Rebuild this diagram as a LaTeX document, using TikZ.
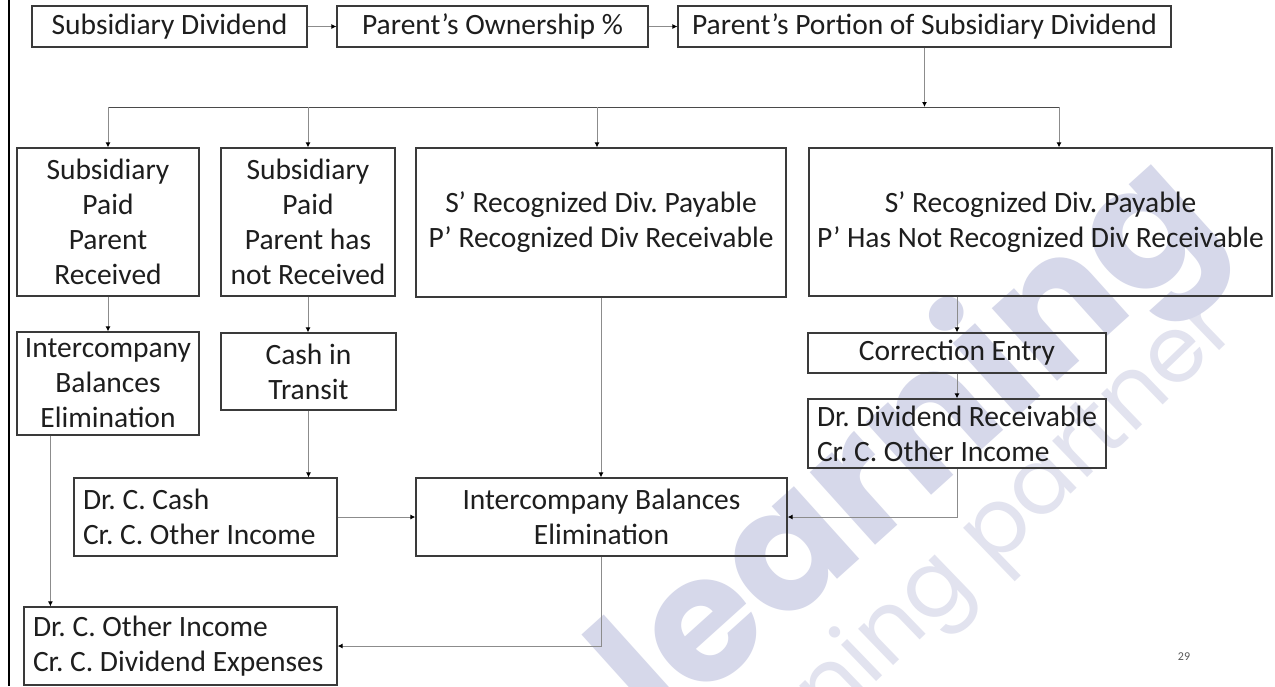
\documentclass[tikz,border=0pt]{standalone}
\usepackage{fontspec}
\setmainfont{Carlito}
\newfontfamily\wmfont{Poppins}
\usetikzlibrary{arrows.meta}
\definecolor{boxline}{HTML}{3A3A3A}
\definecolor{connline}{HTML}{8C8C8C}
\definecolor{busline}{HTML}{4A4A4A}
\definecolor{inktext}{HTML}{1E1E1E}
\definecolor{wmblue}{HTML}{D6D8EA}
\definecolor{wmgrey}{HTML}{E2E3EF}
\definecolor{pagenum}{HTML}{595959}

\begin{document}
\begin{tikzpicture}[x=1pt,y=-1pt,
  box/.style={draw=boxline, line width=1.2pt, inner sep=0pt, text=inktext,
    font=\fontsize{29.5}{35}\selectfont\frenchspacing, align=center},
  lbox/.style={box, align=flush left, inner xsep=9pt},
  conn/.style={draw=connline, line width=1pt,
    -{Latex[length=5pt,width=5pt,color=black]}},
  busstyle/.style={draw=busline, line width=1pt},
]
\useasboundingbox (0,0) rectangle (1275,686);
\fill[white] (0,0) rectangle (1275,686);

% faint background watermark
\begin{scope}
  \clip (0,0) rectangle (1275,686);
  \node[text=wmgrey, font=\wmfont\fontsize{92}{92}\selectfont, rotate=44]
    (wmsub) at (968,562) {learning partner”};
  \node[text=wmblue, font=\wmfont\bfseries\fontsize{175}{175}\selectfont, rotate=42]
    (wmmain) at (912,450) {learning};
\end{scope}

% left margin rule
\draw[black, line width=2.2pt] (9,0) -- (9,686);

% top row
\node[box, minimum width=275pt, minimum height=41pt] (sd) at (169.5,26.5) {Subsidiary Dividend};
\node[box, minimum width=311pt, minimum height=41pt] (po) at (492.5,26.5) {Parent’s Ownership \%};
\node[box, minimum width=493pt, minimum height=41pt] (pp) at (924.5,26.5) {Parent’s Portion of Subsidiary Dividend};

% four cases
\node[box, minimum width=182pt, minimum height=148pt] (pr) at (108,222) {Subsidiary\\Paid\\Parent\\Received};
\node[box, minimum width=174pt, minimum height=148pt] (pn) at (308,222) {Subsidiary\\Paid\\Parent has\\not Received};
\node[box, minimum width=370pt, minimum height=149pt] (rr) at (601,222.5) {S’ Recognized Div. Payable\\P’ Recognized Div Receivable};
\node[box, minimum width=463pt, minimum height=148pt] (rn) at (1040.5,222) {S’ Recognized Div. Payable\\P’ Has Not Recognized Div Receivable};

% follow-up steps
\node[box, minimum width=182pt, minimum height=103pt] (ie1) at (108,383.5) {Intercompany\\Balances\\Elimination};
\node[box, minimum width=175pt, minimum height=77pt] (ct) at (308.5,371.5) {Cash in\\Transit};
\node[box, minimum width=298pt, minimum height=40pt] (ce) at (957,353) {Correction Entry};
\node[lbox, text width=280pt, minimum height=69pt] (dr) at (957,433.5) {Dr. Dividend Receivable\\Cr. C. Other Income};
\node[lbox, text width=245pt, minimum height=78pt] (cash) at (205.5,517) {Dr. C. Cash\\Cr. C. Other Income};
\node[box, minimum width=371pt, minimum height=78pt] (ie2) at (601.5,517) {Intercompany Balances\\Elimination};
\node[lbox, text width=295pt, minimum height=78pt] (oi) at (180.5,646) {Dr. C. Other Income\\Cr. C. Dividend Expenses};

% page number
\node[text=pagenum, font=\fontsize{12}{14}\selectfont] (pg) at (1184,657) {29};

% connectors along the top
\draw[conn] (sd) -- (po);
\draw[conn] (po) -- (pp);

% distribution bus
\coordinate (bus)  at (925,107);
\coordinate (busL) at (108,107);
\coordinate (busF) at (597,107);
\coordinate (busR) at (1059,107);
\draw[conn] (pp.south) -- (pp.south |- bus);
\draw[busstyle] (busL) -- (busR);
\draw[conn] (busL) -- (pr.north);
\draw[conn] (pn.north |- bus) -- (pn.north);
\draw[conn] (busF) -- (busF |- rr.north);
\draw[conn] (busR) -- (busR |- rn.north);

% downstream flows
\draw[conn] (pr) -- (ie1);
\draw[conn] (pn.south) -- (pn.south |- ct.north);
\draw[conn] (ce.north |- rn.south) -- (ce.north);
\draw[conn] (ce) -- (dr);
\draw[conn] (ct.south) -- (ct.south |- cash.north);
\draw[conn] (cash) -- (ie2);
\draw[conn] (rr.south) -- (rr.south |- ie2.north);
\draw[conn] (dr.south) |- (ie2.east);
\draw[conn] (ie2.south) |- (oi.east);
\coordinate (tap) at ([xshift=34pt]ie1.south west);
\draw[conn] (tap) -- (tap |- oi.north);
\end{tikzpicture}
\end{document}
